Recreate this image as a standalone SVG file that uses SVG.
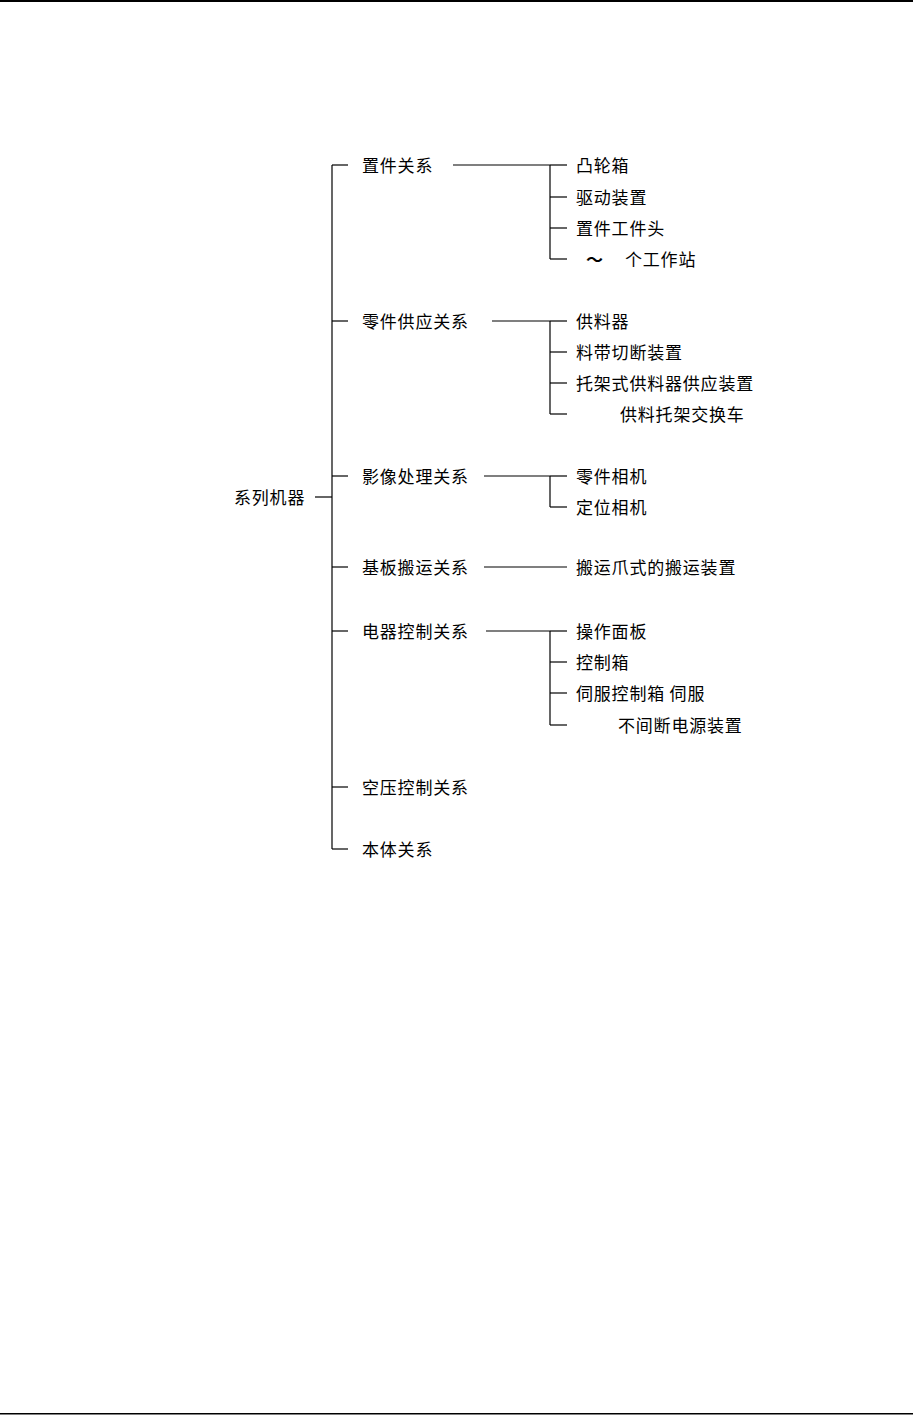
<svg xmlns="http://www.w3.org/2000/svg" width="913" height="1416" viewBox="0 0 913 1416">
<style>
text{font-family:"Noto Sans CJK SC","Noto Sans CJK JP",sans-serif;font-size:17px;letter-spacing:0.8px;fill:#000}
.c line{stroke:#000;stroke-width:1.2}
</style>
<rect x="0" y="0" width="913" height="1416" fill="#fff"/>
<rect x="0" y="0" width="913" height="2" fill="#000"/>
<rect x="0" y="1413" width="913" height="1.5" fill="#000"/>
<g id="connectors" class="c">
<line x1="315" y1="497" x2="332" y2="497"/>
<line x1="332" y1="165" x2="332" y2="849"/>
<line x1="332" y1="165" x2="348" y2="165"/>
<line x1="332" y1="321" x2="348" y2="321"/>
<line x1="332" y1="476" x2="348" y2="476"/>
<line x1="332" y1="567" x2="348" y2="567"/>
<line x1="332" y1="631" x2="348" y2="631"/>
<line x1="332" y1="787" x2="348" y2="787"/>
<line x1="332" y1="849" x2="348" y2="849"/>
<line x1="453" y1="165" x2="550" y2="165"/>
<line x1="550" y1="165" x2="550" y2="259"/>
<line x1="550" y1="165" x2="567" y2="165"/>
<line x1="550" y1="197" x2="567" y2="197"/>
<line x1="550" y1="228" x2="567" y2="228"/>
<line x1="550" y1="259" x2="567" y2="259"/>
<line x1="492" y1="321" x2="550" y2="321"/>
<line x1="550" y1="321" x2="550" y2="414"/>
<line x1="550" y1="321" x2="567" y2="321"/>
<line x1="550" y1="352" x2="567" y2="352"/>
<line x1="550" y1="383" x2="567" y2="383"/>
<line x1="550" y1="414" x2="567" y2="414"/>
<line x1="484" y1="476" x2="550" y2="476"/>
<line x1="550" y1="476" x2="550" y2="507"/>
<line x1="550" y1="476" x2="567" y2="476"/>
<line x1="550" y1="507" x2="567" y2="507"/>
<line x1="484" y1="567" x2="567" y2="567"/>
<line x1="486" y1="631" x2="550" y2="631"/>
<line x1="550" y1="631" x2="550" y2="725"/>
<line x1="550" y1="631" x2="567" y2="631"/>
<line x1="550" y1="662" x2="567" y2="662"/>
<line x1="550" y1="693" x2="567" y2="693"/>
<line x1="550" y1="725" x2="567" y2="725"/>
</g>
<g id="root"><text x="234" y="504">系列机器</text></g>
<g id="n1"><text x="362" y="172">置件关系</text></g>
<g id="n1a"><text x="576" y="172">凸轮箱</text></g>
<g id="n1b"><text x="576" y="204">驱动装置</text></g>
<g id="n1c"><text x="576" y="235">置件工件头</text></g>
<g id="n1d"><text x="586" y="266" font-weight="bold">～</text><text x="625" y="266">个工作站</text></g>
<g id="n2"><text x="362" y="328">零件供应关系</text></g>
<g id="n2a"><text x="576" y="328">供料器</text></g>
<g id="n2b"><text x="576" y="359">料带切断装置</text></g>
<g id="n2c"><text x="576" y="390">托架式供料器供应装置</text></g>
<g id="n2d"><text x="620" y="421">供料托架交换车</text></g>
<g id="n3"><text x="362" y="483">影像处理关系</text></g>
<g id="n3a"><text x="576" y="483">零件相机</text></g>
<g id="n3b"><text x="576" y="514">定位相机</text></g>
<g id="n4"><text x="362" y="574">基板搬运关系</text></g>
<g id="n4a"><text x="576" y="574">搬运爪式的搬运装置</text></g>
<g id="n5"><text x="362" y="638">电器控制关系</text></g>
<g id="n5a"><text x="576" y="638">操作面板</text></g>
<g id="n5b"><text x="576" y="669">控制箱</text></g>
<g id="n5c"><text x="576" y="700">伺服控制箱 伺服</text></g>
<g id="n5d"><text x="618" y="732">不间断电源装置</text></g>
<g id="n6"><text x="362" y="794">空压控制关系</text></g>
<g id="n7"><text x="362" y="856">本体关系</text></g>
</svg>
